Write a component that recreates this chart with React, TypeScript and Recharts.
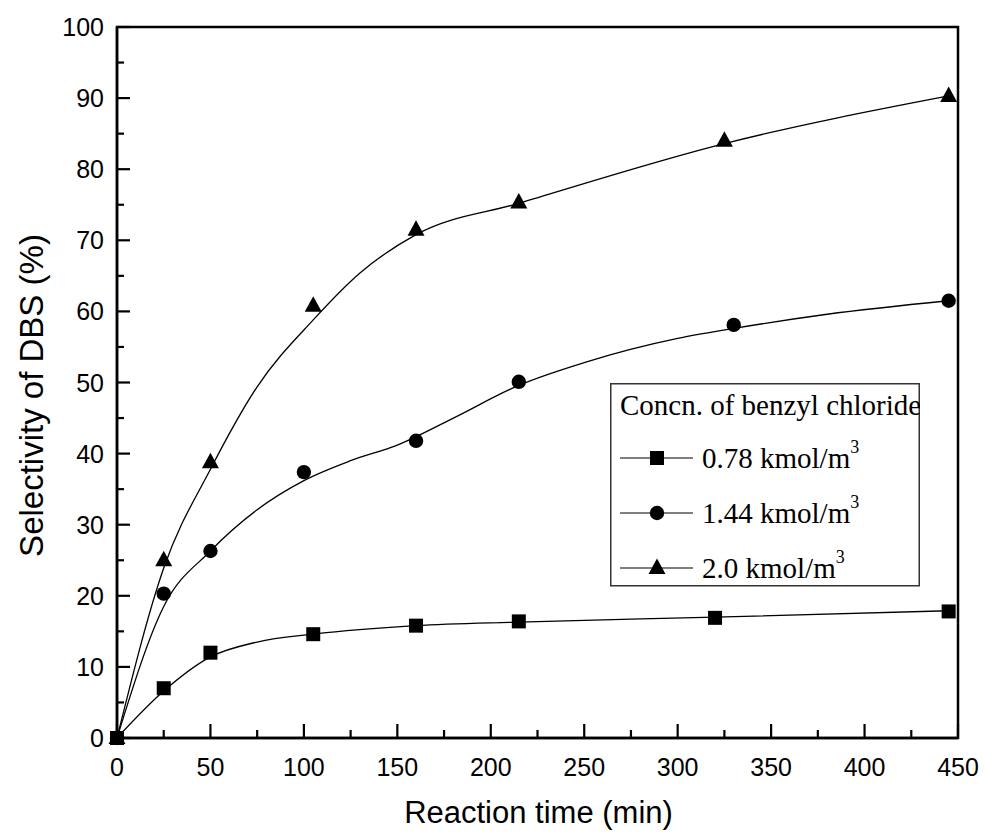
import { ComposedChart, Line, Scatter, XAxis, YAxis, ReferenceArea, Legend } from "recharts";

// measured points
const timeSquare = [0, 25, 50, 105, 160, 215, 320, 445];
const selSquare = [0, 7.0, 12.0, 14.6, 15.8, 16.4, 16.9, 17.8];
const timeCircle = [0, 25, 50, 100, 160, 215, 330, 445];
const selCircle = [0, 20.3, 26.3, 37.4, 41.8, 50.1, 58.1, 61.5];
const timeTriangle = [0, 25, 50, 105, 160, 215, 325, 445];
const selTriangle = [0, 25.0, 38.8, 60.8, 71.5, 75.3, 84.0, 90.3];

// fitted curves
const fitTimeSquare = [0, 25, 50, 75, 105, 160, 215, 320, 445];
const fitSelSquare = [0, 6.6, 11.4, 13.5, 14.6, 15.8, 16.3, 17.0, 17.9];
const fitTimeCircle = [0, 25, 50, 75, 100, 125, 150, 180, 215, 250, 300, 330, 380, 445];
const fitSelCircle = [0, 18.5, 26.3, 32.1, 36.2, 39.0, 41.2, 45.0, 49.6, 52.8, 56.2, 57.6, 59.6, 61.5];
const fitTimeTriangle = [0, 25, 50, 75, 105, 130, 160, 215, 325, 445];
const fitSelTriangle = [0, 23.9, 37.8, 49.4, 58.8, 65.4, 70.8, 75.2, 83.6, 90.3];

const xTicks = [0, 25, 50, 75, 100, 125, 150, 175, 200, 225, 250, 275, 300, 325, 350, 375, 400, 425, 450];
const yTicks = [0, 5, 10, 15, 20, 25, 30, 35, 40, 45, 50, 55, 60, 65, 70, 75, 80, 85, 90, 95, 100];

const seriesNames = ["0.78 kmol/m", "1.44 kmol/m", "2.0 kmol/m"];
const legendTitle = "Concn. of benzyl chloride";

const SANS = "'Liberation Sans', Arial, sans-serif";
const SERIF = "'Liberation Serif', 'Times New Roman', serif";

const toPoints = (xs: number[], ys: number[]) => xs.map((x, i) => ({ x, y: ys[i] }));

function Marker({ kind, cx, cy }: { kind: string; cx: number; cy: number }) {
  if (kind === "square") return <rect x={cx - 7} y={cy - 7} width={14} height={14} fill="#000" />;
  if (kind === "circle") return <circle cx={cx} cy={cy} r={7.2} fill="#000" />;
  return <polygon points={`${cx},${cy - 9.5} ${cx - 8.5},${cy + 6} ${cx + 8.5},${cy + 6}`} fill="#000" />;
}

const XTick = ({ x, y, payload }: any) => {
  const major = payload.value % 50 === 0;
  return (
    <g>
      <line x1={x} y1={y} x2={x} y2={y - (major ? 14 : 8)} stroke="#000" strokeWidth={2.2} />
      {major && (
        <text x={x} y={y + 38} textAnchor="middle" fontSize={25} fontFamily={SANS} fill="#000">
          {payload.value}
        </text>
      )}
    </g>
  );
};

const YTick = ({ x, y, payload }: any) => {
  const major = payload.value % 10 === 0;
  return (
    <g>
      <line x1={x} y1={y} x2={x + (major ? 13 : 7)} y2={y} stroke="#000" strokeWidth={2.2} />
      {major && (
        <text x={x - 13} y={y + 9} textAnchor="end" fontSize={25} fontFamily={SANS} fill="#000">
          {payload.value}
        </text>
      )}
    </g>
  );
};

const LegendBox = () => {
  const kinds = ["square", "circle", "triangle"];
  const rows = [75, 130, 185];
  return (
    <svg width={310} height={204}>
      <rect x={0.75} y={0.75} width={308.5} height={202} fill="#fff" stroke="#333" strokeWidth={1.5} />
      <text x={10} y={32} fontSize={29} fontFamily={SERIF} fill="#000">{legendTitle}</text>
      {kinds.map((k, i) => (
        <g key={k}>
          <line x1={10} y1={rows[i]} x2={83} y2={rows[i]} stroke="#000" strokeWidth={1.2} />
          <Marker kind={k} cx={47} cy={rows[i]} />
          <text x={92} y={rows[i] + 10} fontSize={29} fontFamily={SERIF} fill="#000">
            {seriesNames[i]}
            <tspan fontSize={18} dy={-15}>3</tspan>
          </text>
        </g>
      ))}
    </svg>
  );
};

export default function App() {
  const curveProps = { type: "monotone" as const, dataKey: "y", stroke: "#000", strokeWidth: 1.3, dot: false, activeDot: false, isAnimationActive: false, legendType: "none" as const };
  return (
    <div style={{ position: "absolute", left: 0, top: 0, background: "#fff" }}>
      <ComposedChart width={985} height={838} margin={{ top: 27, right: 27, left: 0, bottom: 0 }}>
        <XAxis
          dataKey="x"
          type="number"
          domain={[0, 450]}
          ticks={xTicks}
          interval={0}
          tickSize={0}
          tickMargin={0}
          tickLine={false}
          tick={XTick}
          height={100}
          axisLine={{ stroke: "#000", strokeWidth: 2.5 }}
          label={(props: any) => {
            const vb = props.viewBox;
            return (
              <text x={vb.x + vb.width / 2 + 1} y={vb.y + 85} textAnchor="middle" fontSize={31} fontFamily={SANS} fill="#000">
                Reaction time (min)
              </text>
            );
          }}
        />
        <YAxis
          dataKey="y"
          type="number"
          domain={[0, 100]}
          ticks={yTicks}
          interval={0}
          tickSize={0}
          tickMargin={0}
          tickLine={false}
          tick={YTick}
          width={117}
          axisLine={{ stroke: "#000", strokeWidth: 2.5 }}
          label={(props: any) => {
            const vb = props.viewBox;
            const cy = vb.y + vb.height / 2 + 13;
            return (
              <text x={31} y={cy} transform={`rotate(-90, 31, ${cy})`} textAnchor="middle" dominantBaseline="central" fontSize={33} fontFamily={SANS} fill="#000">
                Selectivity of DBS (%)
              </text>
            );
          }}
        />
        <ReferenceArea x1={0} x2={450} y1={0} y2={100} fill="none" fillOpacity={0} stroke="#000" strokeWidth={2.5} />
        <Line {...curveProps} data={toPoints(fitTimeTriangle, fitSelTriangle)} name="fitTriangle" />
        <Line {...curveProps} data={toPoints(fitTimeCircle, fitSelCircle)} name="fitCircle" />
        <Line {...curveProps} data={toPoints(fitTimeSquare, fitSelSquare)} name="fitSquare" />
        <Scatter data={toPoints(timeTriangle, selTriangle)} dataKey="y" name={seriesNames[2]} isAnimationActive={false} shape={(p: any) => <Marker kind="triangle" cx={p.cx} cy={p.cy} />} />
        <Scatter data={toPoints(timeCircle, selCircle)} dataKey="y" name={seriesNames[1]} isAnimationActive={false} shape={(p: any) => <Marker kind="circle" cx={p.cx} cy={p.cy} />} />
        <Scatter data={toPoints(timeSquare, selSquare)} dataKey="y" name={seriesNames[0]} isAnimationActive={false} shape={(p: any) => <Marker kind="square" cx={p.cx} cy={p.cy} />} />
        <Legend
          layout="vertical"
          align="center"
          verticalAlign="middle"
          content={LegendBox}
          wrapperStyle={{ position: "absolute", left: 610, top: 383, width: 310, height: 204 }}
        />
      </ComposedChart>
    </div>
  );
}
